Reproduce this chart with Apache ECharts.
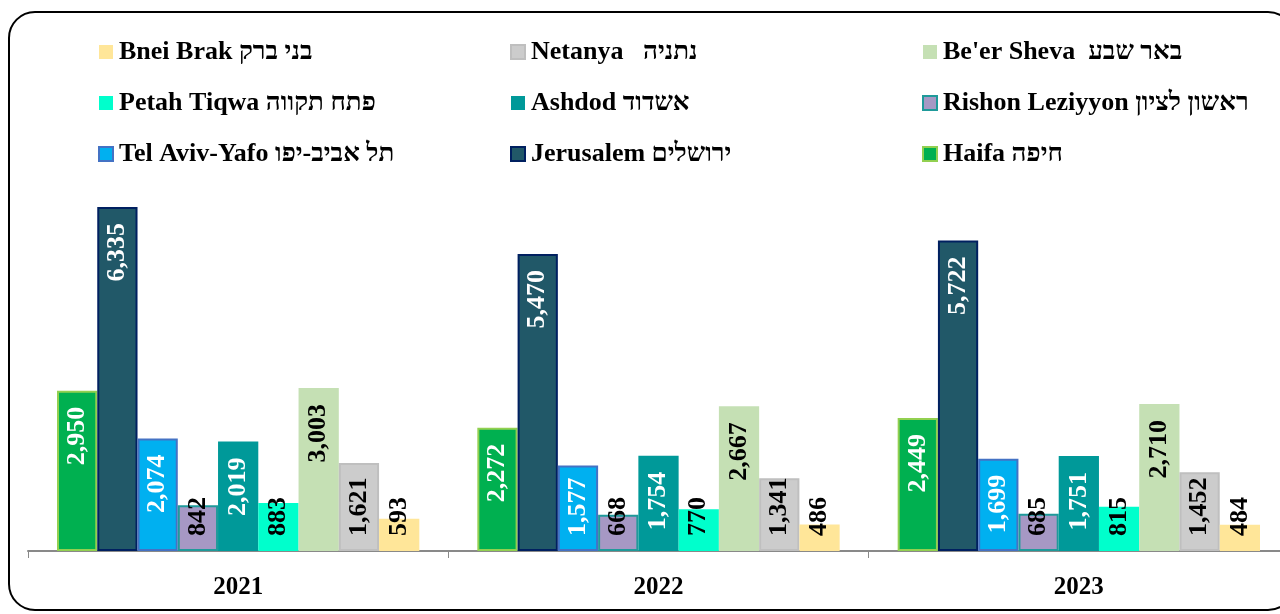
<!DOCTYPE html>
<html>
<head>
<meta charset="utf-8">
<script src="https://cdn.jsdelivr.net/npm/echarts@6/dist/echarts.min.js"></script>
<style>
  html, body { margin: 0; padding: 0; background: #fff; }
  #chart { width: 1280px; height: 614px; }
</style>
</head>
<body>
<div id="chart"></div>
<script>
const years = ['2021', '2022', '2023']

const haifa = [2950, 2272, 2449]
const jerusalem = [6335, 5470, 5722]
const telAviv = [2074, 1577, 1699]
const rishon = [842, 668, 685]
const ashdod = [2019, 1754, 1751]
const petahTiqwa = [883, 770, 815]
const beerSheva = [3003, 2667, 2710]
const netanya = [1621, 1341, 1452]
const bneiBrak = [593, 486, 484]

const names = {
  haifa: 'Haifa חיפה',
  jerusalem: 'Jerusalem ירושלים',
  telAviv: 'Tel Aviv-Yafo תל אביב-יפו',
  rishon: 'Rishon Leziyyon ראשון לציון',
  ashdod: 'Ashdod אשדוד',
  petahTiqwa: 'Petah Tiqwa פתח תקווה',
  beerSheva: "Be'er Sheva  באר שבע",
  netanya: 'Netanya   נתניה',
  bneiBrak: 'Bnei Brak בני ברק'
}

const font = '"Liberation Serif", "Times New Roman", serif'
const yMax = 7000
const plotHeight = 380
const fontSize = 26

// label sits near the top of the bar unless the bar is too short for it
function labelFor(v, color) {
  const txt = v.toLocaleString('en-US')
  const digits = txt.replace(/,/g, '').length
  const commas = txt.length - digits
  const len = digits * 13 + commas * 6.5
  const barPx = v / yMax * plotHeight
  const fitsTop = 15 + len + 15 <= barPx
  return {
    show: true,
    rotate: 90,
    position: fitsTop ? 'insideTop' : 'insideBottom',
    align: fitsTop ? 'right' : 'left',
    verticalAlign: 'middle',
    distance: fitsTop ? 16 : 15,
    color,
    fontFamily: font,
    fontWeight: 'bold',
    fontSize,
    formatter: () => txt
  }
}

function bar(name, values, color, labelColor, border) {
  return {
    name,
    type: 'bar',
    barGap: '0%',
    barCategoryGap: '13.8%',
    itemStyle: {
      color,
      borderColor: border || color,
      borderWidth: border ? 2 : 0
    },
    data: values.map(v => ({ value: v, label: labelFor(v, labelColor) })),
    silent: true
  }
}

const legendBase = {
  orient: 'vertical',
  top: 39,
  padding: 0,
  icon: 'rect',
  itemWidth: 14,
  itemHeight: 14,
  itemGap: 28,
  selectedMode: false,
  textStyle: {
    fontFamily: font,
    fontWeight: 'bold',
    fontSize: 26,
    lineHeight: 23,
    color: '#000',
    padding: [0, 0, 0, 1]
  }
}

const chart = echarts.init(document.getElementById('chart'))
chart.setOption({
  animation: false,
  graphic: [{
    type: 'rect',
    shape: { x: 9, y: 12, width: 1285, height: 598, r: 26 },
    style: { fill: 'none', stroke: '#000', lineWidth: 2 },
    silent: true
  }],
  legend: [
    Object.assign({}, legendBase, { left: 98, data: [names.bneiBrak, names.petahTiqwa, names.telAviv] }),
    Object.assign({}, legendBase, { left: 510, data: [names.netanya, names.ashdod, names.jerusalem] }),
    Object.assign({}, legendBase, { left: 922, data: [names.beerSheva, names.rishon, names.haifa] })
  ].map(l => Object.assign(l, { itemGap: 25 })),
  grid: {
    left: 28,
    width: 1261,
    top: 551 - plotHeight,
    height: plotHeight,
    outerBoundsMode: 'none'
  },
  xAxis: {
    type: 'category',
    data: years,
    axisLine: { lineStyle: { color: '#898989', width: 2 } },
    axisTick: { show: true, length: 7, lineStyle: { color: '#898989', width: 1 } },
    axisLabel: {
      margin: 24,
      color: '#000',
      fontFamily: font,
      fontWeight: 'bold',
      fontSize: 25
    }
  },
  yAxis: {
    type: 'value',
    min: 0,
    max: yMax,
    show: false,
    splitLine: { show: false }
  },
  series: [
    bar(names.haifa, haifa, '#00b050', '#fff', '#92d050'),
    bar(names.jerusalem, jerusalem, '#215868', '#fff', '#002060'),
    bar(names.telAviv, telAviv, '#00b0f0', '#fff', '#4472c4'),
    bar(names.rishon, rishon, '#a698c4', '#000', '#1f9a9a'),
    bar(names.ashdod, ashdod, '#009999', '#fff'),
    bar(names.petahTiqwa, petahTiqwa, '#00ffcc', '#000'),
    bar(names.beerSheva, beerSheva, '#c5e0b4', '#000'),
    bar(names.netanya, netanya, '#cccccc', '#000', '#bfbfbf'),
    bar(names.bneiBrak, bneiBrak, '#ffe699', '#000')
  ]
})
</script>
</body>
</html>
